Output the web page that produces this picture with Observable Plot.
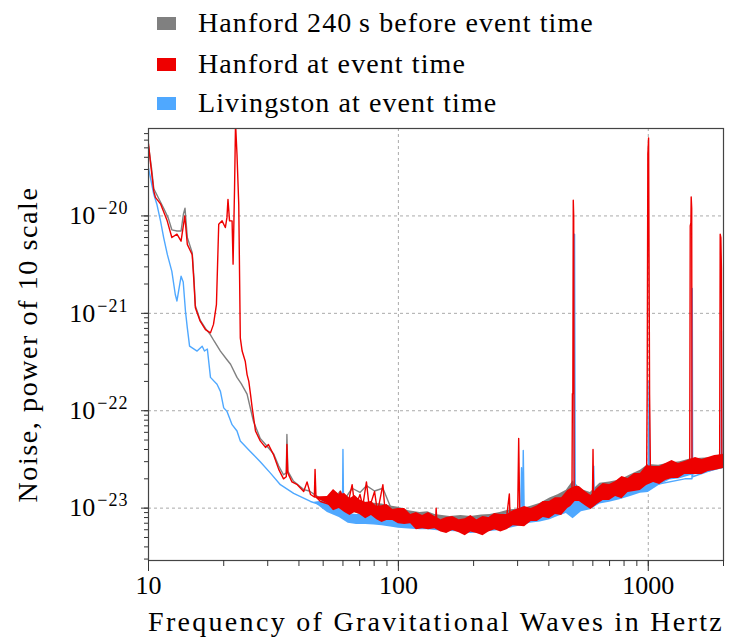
<!DOCTYPE html>
<html>
<head>
<meta charset="utf-8">
<script src="https://cdn.jsdelivr.net/npm/d3@7"></script>
<script src="https://cdn.jsdelivr.net/npm/@observablehq/plot@0.6"></script>
<style>
  html, body { margin: 0; padding: 0; background: #fff; }
  #legend { position: relative; width: 730px; height: 118px; font-family: "Liberation Serif", serif; font-size: 28px; letter-spacing: 1.1px; color: #000; }
  .row { position: absolute; left: 157px; display: flex; align-items: center; height: 30px; }
  .sw { width: 19px; height: 13px; margin-right: 22px; }
  svg { display: block; }
</style>
</head>
<body>
<div id="legend"></div>
<div id="chart"></div>
<script>
// ---------- series names / colours ----------
const seriesNames = ["Hanford 240\u2009s before event time", "Hanford at event time", "Livingston at event time"];
const seriesColors = ["#808080", "#ee0000", "#4fa8ff"];

// ---------- axis ticks ----------
const xTicks = [10, 100, 1000];
const xTickLabels = ["10", "100", "1000"];
const yTicks = [1e-23, 1e-22, 1e-21, 1e-20];
const yTickBase = "10";
const yTickExponents = ["\u221223", "\u221222", "\u221221", "\u221220"];

// ---------- Hanford 240 s before event (grey) ----------
const beforeFreq = [10, 10.3, 10.5, 11.0, 11.5, 12.0, 12.4, 13.0, 13.5, 13.8, 14.0, 14.3, 14.96, 15.2, 15.4, 16.1, 16.9, 17.7, 18.3, 19.4, 20.5, 21.3, 22.6, 23.5, 24.8, 26.3, 28.0, 29.4, 31.7, 33.2, 34.7, 35.6, 35.8, 36.1, 38, 41.8, 44, 48.8, 53.6, 58.6, 60.5, 65.3, 70.2, 74.5, 80.3, 86.7, 95, 100, 150, 200, 300, 400, 500, 700, 1000, 1500, 2000];
const beforeNoise = [5.2e-20, 3.0e-20, 1.9e-20, 1.5e-20, 1.2e-20, 9.5e-21, 7.2e-21, 7.0e-21, 7.0e-21, 1.05e-20, 1.2e-20, 6.0e-21, 4.2e-21, 2.3e-21, 1.2e-21, 8.5e-22, 7.0e-22, 6.0e-22, 5.2e-22, 4.1e-22, 3.4e-22, 3.0e-22, 2.2e-22, 1.9e-22, 1.48e-22, 7.8e-23, 5.2e-23, 4.5e-23, 3.6e-23, 2.7e-23, 2.2e-23, 2.3e-23, 5.7e-23, 2.4e-23, 1.9e-23, 1.55e-23, 1.5e-23, 1.25e-23, 1.12e-23, 1.5e-23, 1.2e-23, 1.6e-23, 1.45e-23, 1.7e-23, 1.5e-23, 1.6e-23, 9e-24, 8.4e-24, 7.6e-24, 7.0e-24, 8.2e-24, 9.8e-24, 1.3e-23, 1.6e-23, 2.0e-23, 2.4e-23, 2.9e-23];

// ---------- Hanford at event time (red) ----------
const hanfordFreq = [10.0, 10.2, 10.5, 10.66, 11.17, 11.88, 12.4, 13.0, 13.5, 13.97, 14.3, 14.96, 15.2, 15.4, 16.1, 16.9, 17.7, 18.2, 18.7, 18.9, 19.1, 19.7, 20.3, 20.6, 20.8, 21.1, 21.6, 21.8, 22.1, 22.3, 22.6, 22.97, 23.3, 23.7, 24.4, 24.8, 25.2, 25.6, 26.0, 26.8, 28.0, 29.4, 30.2, 31.7, 33.2, 34.7, 35.6, 35.8, 36.1, 37.5, 39.4, 41.8, 43.1, 44.5, 46.1, 46.4, 46.8, 48.8, 53.6, 56.9, 58.6, 60.5, 62.3, 65.3, 67.0, 70.2, 72.0, 74.5, 76.5, 80.3, 82.5, 86.7, 88.5, 95.7, 100, 120, 141, 141.6, 142.5, 170, 200, 250, 270, 278, 280, 300, 303, 306, 350, 400, 460, 495, 497, 499, 501, 503, 505, 560, 598, 601, 604, 700, 800, 950, 985, 990, 996, 1003, 1012, 1020, 1200, 1465, 1472, 1481, 1485, 1492, 1496, 1700, 1930, 1940, 1952, 1962, 1970, 2000];
const hanfordNoise = [5.5e-20, 3.4e-20, 1.8e-20, 1.55e-20, 1.33e-20, 8.9e-21, 6.0e-21, 6.5e-21, 5.5e-21, 1.0e-20, 5.1e-21, 4.0e-21, 2.1e-21, 1.14e-21, 8.3e-22, 6.8e-22, 6.3e-22, 7.7e-22, 1.23e-21, 3.2e-21, 8.2e-21, 8.9e-21, 7.6e-21, 9.6e-21, 1.48e-20, 8.9e-21, 8.9e-21, 3.2e-21, 1.95e-20, 9e-20, 4.3e-20, 1.32e-20, 5.6e-22, 4.1e-22, 3.2e-22, 2.35e-22, 2.0e-22, 1.47e-22, 1.07e-22, 6.2e-23, 4.9e-23, 4.2e-23, 4.5e-23, 3.5e-23, 2.5e-23, 2.0e-23, 2.1e-23, 4.5e-23, 2.3e-23, 1.86e-23, 1.74e-23, 1.48e-23, 1.86e-23, 1.38e-23, 1.3e-23, 2.5e-23, 1.3e-23, 1.17e-23, 1.08e-23, 1.17e-23, 1.48e-23, 1.17e-23, 1.0e-23, 1.74e-23, 1.0e-23, 1.38e-23, 1.05e-23, 1.86e-23, 1.0e-23, 1.48e-23, 9.1e-24, 1.74e-23, 9.1e-24, 8.5e-24, 8.2e-24, 7.8e-24, 7.6e-24, 1.0e-23, 7.5e-24, 7.0e-24, 6.8e-24, 7.0e-24, 7.4e-24, 1.4e-23, 7.6e-24, 8.0e-24, 5.2e-23, 8.2e-24, 9.0e-24, 9.6e-24, 1.1e-23, 1.3e-23, 1.5e-22, 1.5e-22, 1.45e-20, 1.0e-20, 1.4e-23, 1.3e-23, 1.35e-23, 4.0e-23, 1.4e-23, 1.6e-23, 1.8e-23, 2.0e-23, 2.4e-23, 1.5e-22, 4.3e-20, 6.3e-20, 1.5e-22, 2.4e-23, 2.4e-23, 2.4e-23, 7.9e-21, 8.5e-21, 1.57e-20, 1.2e-20, 2.5e-23, 2.8e-23, 2.8e-23, 6.5e-21, 6.0e-21, 2.9e-21, 2.9e-23, 3.0e-23];

// ---------- Livingston at event time (blue) ----------
const livingstonFreq = [10, 10.5, 10.8, 11.17, 11.5, 11.9, 12.4, 12.8, 13.0, 13.5, 13.77, 14.06, 14.3, 14.6, 15.65, 16.4, 16.75, 17.2, 17.7, 18.8, 19.4, 20.0, 20.6, 21.6, 22.6, 23.3, 25.6, 28.0, 30.7, 33.7, 38.1, 44.5, 48.8, 53.6, 58.6, 59.8, 60.0, 60.3, 62.3, 70.2, 79.6, 90, 98.7, 150, 200, 300, 308, 311, 314, 316, 319, 400, 480, 500, 505, 507, 510, 520, 600, 605, 608, 800, 1000, 1008, 1015, 1400, 1496, 1500, 1505, 1900, 1958, 1962, 1970, 2000];
const livingstonNoise = [3.1e-20, 1.67e-20, 1.32e-20, 8.9e-21, 6.0e-21, 4.0e-21, 2.7e-21, 1.56e-21, 1.34e-21, 2.4e-21, 2.1e-21, 1.05e-21, 7.1e-22, 4.6e-22, 4.1e-22, 4.6e-22, 4.1e-22, 4.3e-22, 2.2e-22, 1.87e-22, 1.58e-22, 1.07e-22, 9.9e-23, 7.2e-23, 6.2e-23, 4.9e-23, 3.8e-23, 3.0e-23, 2.3e-23, 1.74e-23, 1.42e-23, 1.17e-23, 1.08e-23, 1.08e-23, 1.38e-23, 1.3e-23, 4.0e-23, 1.2e-23, 8.5e-24, 7.9e-24, 7.3e-24, 7.3e-24, 6.9e-24, 6.8e-24, 6.5e-24, 7.5e-24, 7.6e-24, 2.6e-23, 7.8e-24, 3.9e-23, 7.8e-24, 9e-24, 1.05e-23, 1.2e-23, 1.5e-23, 6.5e-21, 1.5e-23, 1.2e-23, 1.25e-23, 2.7e-23, 1.25e-23, 1.5e-23, 1.6e-23, 2.0e-22, 1.7e-23, 2.0e-23, 2.0e-23, 1.8e-21, 2.1e-23, 2.6e-23, 2.7e-23, 6.6e-22, 2.7e-23, 2.8e-23];

// ---------- spread of the noisy traces (low / high edges) ----------
const hanfordBandFreq = [46, 52, 55, 58, 61, 64, 67, 70, 74, 78, 82, 86, 90, 95, 100, 106, 112, 118, 125, 132, 140, 148, 156, 165, 175, 185, 195, 206, 218, 230, 243, 257, 272, 288, 320, 340, 360, 380, 402, 425, 450, 476, 490, 510, 530, 560, 590, 625, 660, 700, 740, 785, 830, 880, 930, 985, 1050, 1110, 1175, 1245, 1320, 1400, 1545, 1640, 1740, 1845, 2000];
const hanfordHi = [1.3e-23, 1.32e-23, 1.55e-23, 1.38e-23, 1.41e-23, 1.25e-23, 1.35e-23, 1.22e-23, 1.14e-23, 1.17e-23, 1.04e-23, 1.06e-23, 1.09e-23, 9.7e-24, 9.9e-24, 9.9e-24, 8.6e-24, 9.0e-24, 8.4e-24, 9.0e-24, 8.2e-24, 7.6e-24, 8.0e-24, 8.2e-24, 7.6e-24, 7.8e-24, 8.4e-24, 7.6e-24, 8.2e-24, 8.0e-24, 8.8e-24, 8.6e-24, 8.6e-24, 9.4e-24, 1.04e-23, 9.9e-24, 1.06e-23, 1.17e-23, 1.17e-23, 1.28e-23, 1.28e-23, 1.52e-23, 1.59e-23, 1.67e-23, 1.67e-23, 1.48e-23, 1.35e-23, 1.59e-23, 1.79e-23, 1.75e-23, 1.88e-23, 2.11e-23, 2.02e-23, 2.27e-23, 2.27e-23, 2.74e-23, 2.68e-23, 2.68e-23, 2.87e-23, 3.09e-23, 2.87e-23, 3.01e-23, 3.31e-23, 3.16e-23, 3.31e-23, 3.47e-23, 3.56e-23];
const hanfordLo = [1.3e-23, 1.11e-23, 9.4e-24, 9.9e-24, 9.0e-24, 8.4e-24, 9.0e-24, 8.6e-24, 7.8e-24, 8.4e-24, 7.6e-24, 7.1e-24, 7.45e-24, 7.45e-24, 6.9e-24, 6.8e-24, 6.9e-24, 6.0e-24, 6.15e-24, 6.0e-24, 6.15e-24, 5.7e-24, 5.5e-24, 5.9e-24, 5.6e-24, 5.2e-24, 5.7e-24, 5.5e-24, 5.2e-24, 5.7e-24, 6.0e-24, 5.7e-24, 6.0e-24, 6.6e-24, 6.45e-24, 7.3e-24, 7.3e-24, 8.0e-24, 7.8e-24, 8.6e-24, 8.4e-24, 9.9e-24, 1.04e-23, 1.17e-23, 1.17e-23, 1.06e-23, 9.7e-24, 1.09e-23, 1.2e-23, 1.2e-23, 1.32e-23, 1.25e-23, 1.45e-23, 1.48e-23, 1.52e-23, 1.71e-23, 1.83e-23, 1.75e-23, 1.92e-23, 2.02e-23, 2.02e-23, 2.22e-23, 2.22e-23, 2.22e-23, 2.38e-23, 2.44e-23, 2.55e-23];

const sideBandFreq = [46, 52, 58, 63, 68, 74, 80, 86, 93, 100, 110, 122, 131, 140, 150, 161, 178, 195, 215, 233, 255, 280, 310, 337, 370, 404, 435, 470, 500, 540, 587, 640, 700, 770, 850, 930, 1000, 1100, 1220, 1340, 1470, 1620, 1770, 2000];
const beforeLo = [1.3e-23, 1.1e-23, 1.0e-23, 9.4e-24, 8.8e-24, 8.4e-24, 8.2e-24, 7.8e-24, 7.6e-24, 7.4e-24, 6.8e-24, 6.4e-24, 6.6e-24, 6.4e-24, 6.2e-24, 6.1e-24, 5.9e-24, 5.7e-24, 5.9e-24, 6.0e-24, 6.0e-24, 6.4e-24, 6.9e-24, 7.4e-24, 7.8e-24, 8.4e-24, 9.0e-24, 1.0e-23, 1.25e-23, 1.1e-23, 1.05e-23, 1.18e-23, 1.25e-23, 1.35e-23, 1.45e-23, 1.6e-23, 1.75e-23, 1.9e-23, 2.0e-23, 2.05e-23, 2.2e-23, 2.3e-23, 2.4e-23, 2.55e-23];
const beforeHi = [1.3e-23, 1.25e-23, 1.4e-23, 1.3e-23, 1.2e-23, 1.15e-23, 1.12e-23, 1.1e-23, 1.05e-23, 1.02e-23, 9.4e-24, 9.0e-24, 9.2e-24, 8.6e-24, 8.4e-24, 8.2e-24, 8.4e-24, 8.2e-24, 8.5e-24, 8.6e-24, 9.0e-24, 9.6e-24, 9.8e-24, 1.04e-23, 1.12e-23, 1.27e-23, 1.37e-23, 1.53e-23, 1.9e-23, 1.55e-23, 1.45e-23, 1.8e-23, 1.85e-23, 1.95e-23, 2.2e-23, 2.45e-23, 2.8e-23, 2.75e-23, 2.9e-23, 3.0e-23, 3.2e-23, 3.25e-23, 3.3e-23, 3.6e-23];
const livingstonLo = [1.15e-23, 9.0e-24, 8.0e-24, 7.0e-24, 6.8e-24, 6.8e-24, 6.7e-24, 6.6e-24, 6.4e-24, 6.2e-24, 6.1e-24, 6.0e-24, 6.0e-24, 5.9e-24, 5.8e-24, 5.75e-24, 5.7e-24, 5.5e-24, 5.6e-24, 5.75e-24, 5.9e-24, 6.2e-24, 6.6e-24, 7.0e-24, 7.2e-24, 7.6e-24, 8.2e-24, 8.8e-24, 7.8e-24, 9.2e-24, 9.6e-24, 1.1e-23, 1.15e-23, 1.22e-23, 1.32e-23, 1.42e-23, 1.45e-23, 1.7e-23, 1.95e-23, 2.0e-23, 2.15e-23, 2.25e-23, 2.35e-23, 2.55e-23];
const livingstonHi = [1.15e-23, 1.2e-23, 1.1e-23, 8.8e-24, 8.6e-24, 8.6e-24, 8.4e-24, 8.2e-24, 8.0e-24, 7.8e-24, 7.8e-24, 7.7e-24, 7.7e-24, 7.6e-24, 7.6e-24, 7.6e-24, 7.5e-24, 7.6e-24, 7.8e-24, 8.2e-24, 8.5e-24, 8.8e-24, 9.3e-24, 9.7e-24, 1.02e-23, 1.1e-23, 1.2e-23, 1.32e-23, 1.55e-23, 1.35e-23, 1.32e-23, 1.55e-23, 1.6e-23, 1.66e-23, 1.8e-23, 1.95e-23, 1.88e-23, 2.05e-23, 2.27e-23, 2.45e-23, 2.68e-23, 2.85e-23, 3.0e-23, 3.3e-23];

const xLabel = "Frequency of Gravitational Waves in Hertz";
const yLabel = "Noise, power of 10 scale";

// ---------- build tables ----------
const toRows = (f, v) => f.map((x, i) => ({f: x, v: v[i]}));
const toBand = (f, lo, hi) => f.map((x, i) => ({f: x, lo: lo[i], hi: hi[i]}));
const beforeRows = toRows(beforeFreq, beforeNoise);
const hanfordRows = toRows(hanfordFreq, hanfordNoise);
const livingstonRows = toRows(livingstonFreq, livingstonNoise);
const beforeBand = toBand(sideBandFreq, beforeLo, beforeHi);
const hanfordBand = toBand(hanfordBandFreq, hanfordLo, hanfordHi);
const livingstonBand = toBand(sideBandFreq, livingstonLo, livingstonHi);

// ---------- legend ----------
const legend = document.getElementById("legend");
const rowTops = [8, 49, 88];
seriesNames.forEach((name, i) => {
  const r = document.createElement("div");
  r.className = "row";
  r.style.top = rowTops[i] + "px";
  r.innerHTML = `<div class="sw" style="background:${seriesColors[i]}"></div><span>${name}</span>`;
  legend.appendChild(r);
});

// ---------- chart ----------
const font = "Liberation Serif";
const chart = Plot.plot({
  width: 730,
  height: 525,
  marginLeft: 148,
  marginRight: 7,
  marginTop: 10,
  marginBottom: 83,
  style: {fontFamily: font, background: "#fff", color: "#000"},
  x: {type: "log", domain: [10, 2000]},
  y: {type: "log", domain: [2.9e-24, 7.9e-20]},
  marks: [
    Plot.gridY(yTicks, {stroke: "#aaa", strokeOpacity: 1, strokeDasharray: "3,3"}),
    Plot.gridX([100, 1000], {stroke: "#aaa", strokeOpacity: 1, strokeDasharray: "3,3"}),
    Plot.areaY(beforeBand, {x: "f", y1: "lo", y2: "hi", fill: seriesColors[0]}),
    Plot.line(beforeRows, {x: "f", y: "v", stroke: seriesColors[0], strokeWidth: 1.4, clip: true}),
    Plot.areaY(livingstonBand, {x: "f", y1: "lo", y2: "hi", fill: seriesColors[2]}),
    Plot.line(livingstonRows, {x: "f", y: "v", stroke: seriesColors[2], strokeWidth: 1.4, clip: true}),
    Plot.areaY(hanfordBand, {x: "f", y1: "lo", y2: "hi", fill: seriesColors[1]}),
    Plot.line(hanfordRows, {x: "f", y: "v", stroke: seriesColors[1], strokeWidth: 1.4, clip: true}),
    Plot.frame({stroke: "#444", strokeWidth: 1.2}),
    Plot.axisX({tickSize: 6, tickFormat: () => "", label: null, stroke: "#333"}),
    Plot.axisX(xTicks, {tickSize: 11, tickPadding: 4, fontSize: 26, tickFormat: d => xTickLabels[xTicks.indexOf(d)], label: null, stroke: "#333"}),
    Plot.axisY({tickSize: 4, tickFormat: () => "", label: null, stroke: "#333"}),
    Plot.axisY(yTicks, {tickSize: 7, tickPadding: 13, fontSize: 26, tickFormat: d => yTickBase + "|" + yTickExponents[yTicks.indexOf(d)], label: null, stroke: "#333"}),
    Plot.text([xLabel], {frameAnchor: "bottom", dy: 70, fontSize: 28, lineAnchor: "bottom"}),
    Plot.text([yLabel], {frameAnchor: "left", dx: -120, rotate: -90, fontSize: 28, textAnchor: "middle"})
  ]
});
const svgSel = d3.select(chart);
svgSel.selectAll("text").filter(function() { return this.textContent === xLabel; }).style("letter-spacing", "2.3px");
svgSel.selectAll("text").filter(function() { return this.textContent === yLabel; }).style("letter-spacing", "1.6px");
// superscript exponents on the y tick labels
svgSel.selectAll("text").filter(function() { return this.textContent.includes("|"); }).each(function() {
  const [base, exp] = this.textContent.split("|");
  const t = d3.select(this);
  t.text(null);
  t.append("tspan").text(base);
  t.append("tspan").attr("dy", "-10").attr("dx", "2").style("font-size", "18px").style("letter-spacing", "1px").text(exp);
});
document.getElementById("chart").appendChild(chart);
</script>
</body>
</html>
